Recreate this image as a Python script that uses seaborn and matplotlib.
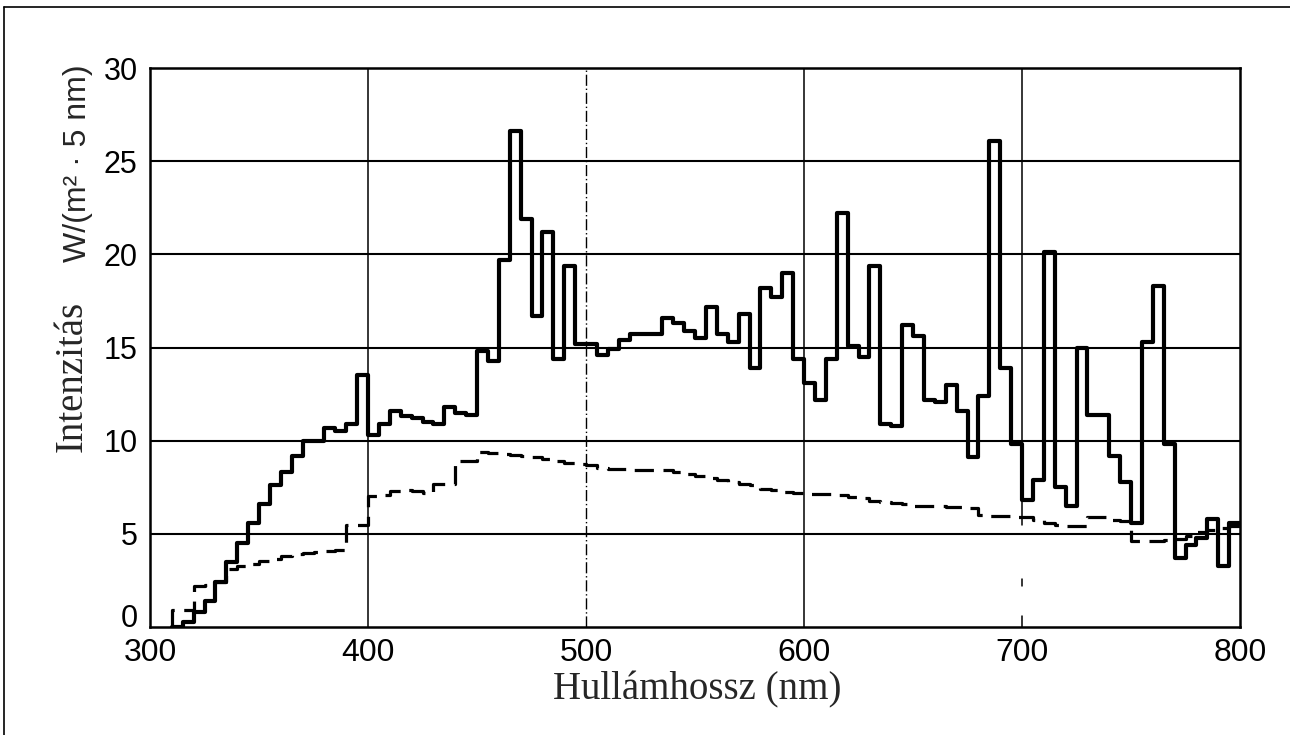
import matplotlib
matplotlib.use("Agg")
import matplotlib.pyplot as plt
import seaborn as sns
import pandas as pd
from matplotlib.lines import Line2D

# ---------------- data (5 nm bins, value from each bin start) ----------------
bin_start = list(range(310, 800, 5))
bin_end = 800

solid_vals = [
    0.0, 0.25, 0.8, 1.4, 2.4, 3.5, 4.5, 5.6, 6.6, 7.6,          # 310-355
    8.3, 9.2, 10.0, 10.0, 10.7, 10.5, 10.9, 13.5,               # 360-395
    10.3, 10.9, 11.6, 11.3, 11.2, 11.0, 10.9, 11.8, 11.5, 11.4, # 400-445
    14.8, 14.3, 19.7, 26.6, 21.9, 16.7, 21.2, 14.4, 19.4, 15.2, # 450-495
    15.2, 14.6, 14.9, 15.4, 15.7, 15.7, 15.7, 16.6, 16.3, 15.9, # 500-545
    15.5, 17.2, 15.7, 15.3, 16.8, 13.9, 18.2, 17.7, 19.0, 14.4, # 550-595
    13.1, 12.2, 14.4, 22.2, 15.1, 14.5, 19.4, 10.9, 10.8, 16.2, # 600-645
    15.6, 12.2, 12.1, 13.0, 11.6, 9.1, 12.4, 26.1, 13.9, 9.8,   # 650-695
    6.8, 7.9, 20.1, 7.5, 6.5, 15.0, 11.4, 11.4, 9.2, 7.8,       # 700-745
    5.6, 15.3, 18.3, 9.8, 3.7, 4.4, 4.8, 5.8, 3.3, 5.6,         # 750-795
]

dashed_vals = [
    0.9, 0.9, 2.2, 2.25, 2.4, 3.1, 3.3, 3.4, 3.55, 3.65,        # 310-355
    3.8, 3.9, 3.95, 4.05, 4.1, 4.15, 5.45, 5.5,                 # 360-395
    7.05, 7.1, 7.3, 7.35, 7.3, 7.2, 7.65, 7.7, 8.9, 8.9,        # 400-445
    9.4, 9.35, 9.3, 9.25, 9.2, 9.1, 9.0, 8.9, 8.8, 8.75,        # 450-495
    8.7, 8.55, 8.5, 8.5, 8.45, 8.45, 8.45, 8.4, 8.3, 8.2,       # 500-545
    8.1, 8.0, 7.9, 7.8, 7.7, 7.6, 7.4, 7.35, 7.25, 7.2,         # 550-595
    7.15, 7.15, 7.15, 7.1, 7.0, 6.9, 6.75, 6.7, 6.65, 6.6,      # 600-645
    6.5, 6.5, 6.5, 6.45, 6.45, 6.4, 6.0, 5.95, 5.95, 5.9,       # 650-695
    5.9, 5.75, 5.6, 5.5, 5.4, 5.4, 5.9, 5.9, 5.75, 5.7,         # 700-745
    4.6, 4.6, 4.6, 4.65, 4.7, 4.9, 5.1, 5.2, 5.3, 5.4,          # 750-795
]

x_ticks = [300, 400, 500, 600, 700, 800]
y_ticks = [0, 5, 10, 15, 20, 25, 30]
x_label = "Hullámhossz (nm)"
y_label_main = "Intenzitás"
y_label_unit = "W/(m² · 5 nm)"

# step tables (steps-post needs the closing edge)
solid_df = pd.DataFrame({
    "nm": bin_start + [bin_end],
    "val": solid_vals + [solid_vals[-1]],
})
dashed_df = pd.DataFrame({
    "nm": [bin_start[0]] + bin_start + [bin_end],
    "val": [0.0] + dashed_vals + [dashed_vals[-1]],
})

# ---------------- figure ----------------
sns.set_style("white")
plt.rcParams["font.family"] = ["Liberation Sans", "DejaVu Sans"]

fig = plt.figure(figsize=(12.9, 7.35), dpi=100)
ax = fig.add_axes([150 / 1290, 1 - 627 / 735, 1090 / 1290, (627 - 68) / 735])

# grid lines
for yv in y_ticks[1:-1]:
    ax.axhline(yv, color="black", lw=1.5, zorder=1)
for xv in [400, 600]:
    ax.axvline(xv, color="black", lw=1.1, zorder=1)
ax.axvline(500, color="black", lw=1.0, ls=(0, (8, 2, 1, 2)), zorder=1)
ax.axvline(700, ymin=5.5 / 30, ymax=1, color="black", lw=1.1, zorder=1)
ax.axvline(700, ymin=0, ymax=0.6 / 30, color="black", lw=1.1, zorder=1)
ax.axvline(700, ymin=2.2 / 30, ymax=2.6 / 30, color="black", lw=1.1, zorder=1)

sns.lineplot(data=solid_df, x="nm", y="val", ax=ax, color="black",
             lw=3.0, drawstyle="steps-post", estimator=None, sort=False, zorder=3)
sns.lineplot(data=dashed_df, x="nm", y="val", ax=ax, color="black",
             lw=2.3, drawstyle="steps-post", estimator=None, sort=False,
             dashes=False, zorder=2).lines[-1].set_dashes([6, 3])

ax.set_xlim(300, 800)
ax.set_ylim(0, 30)
ax.set_xticks(x_ticks)
ax.set_yticks(y_ticks)
ax.set_xticklabels([str(v) for v in x_ticks], fontsize=23)
ax.set_yticklabels([str(v) for v in y_ticks], fontsize=22)
ax.tick_params(axis="x", length=0, pad=8, colors="black")
ax.tick_params(axis="y", length=0, pad=9, colors="black")
ax.get_yticklabels()[0].set_verticalalignment("baseline")
ax.set_xlabel("")
ax.set_ylabel("")
for sp in ax.spines.values():
    sp.set_visible(True)
    sp.set_color("black")
    sp.set_linewidth(1.8)

fig.text(697 / 1290, 1 - 690 / 735, x_label, family=["Liberation Serif"],
         fontsize=28, ha="center", va="center")
fig.text(72 / 1290, 1 - 376 / 735, y_label_main, family=["Liberation Serif"],
         fontsize=28, ha="center", va="center", rotation=90)
fig.text(78 / 1290, 1 - 163 / 735, y_label_unit, family=["Liberation Sans", "DejaVu Sans"],
         fontsize=23, ha="center", va="center", rotation=90)

# outer frame (top and left edges visible in the reference)
fig.add_artist(Line2D([4 / 1290, 1.0], [1 - 7 / 735, 1 - 7 / 735],
                      transform=fig.transFigure, color="black", lw=1.2))
fig.add_artist(Line2D([4 / 1290, 4 / 1290], [0.0, 1 - 7 / 735],
                      transform=fig.transFigure, color="black", lw=1.2))

fig.savefig("out.png", dpi=100, facecolor="white")
